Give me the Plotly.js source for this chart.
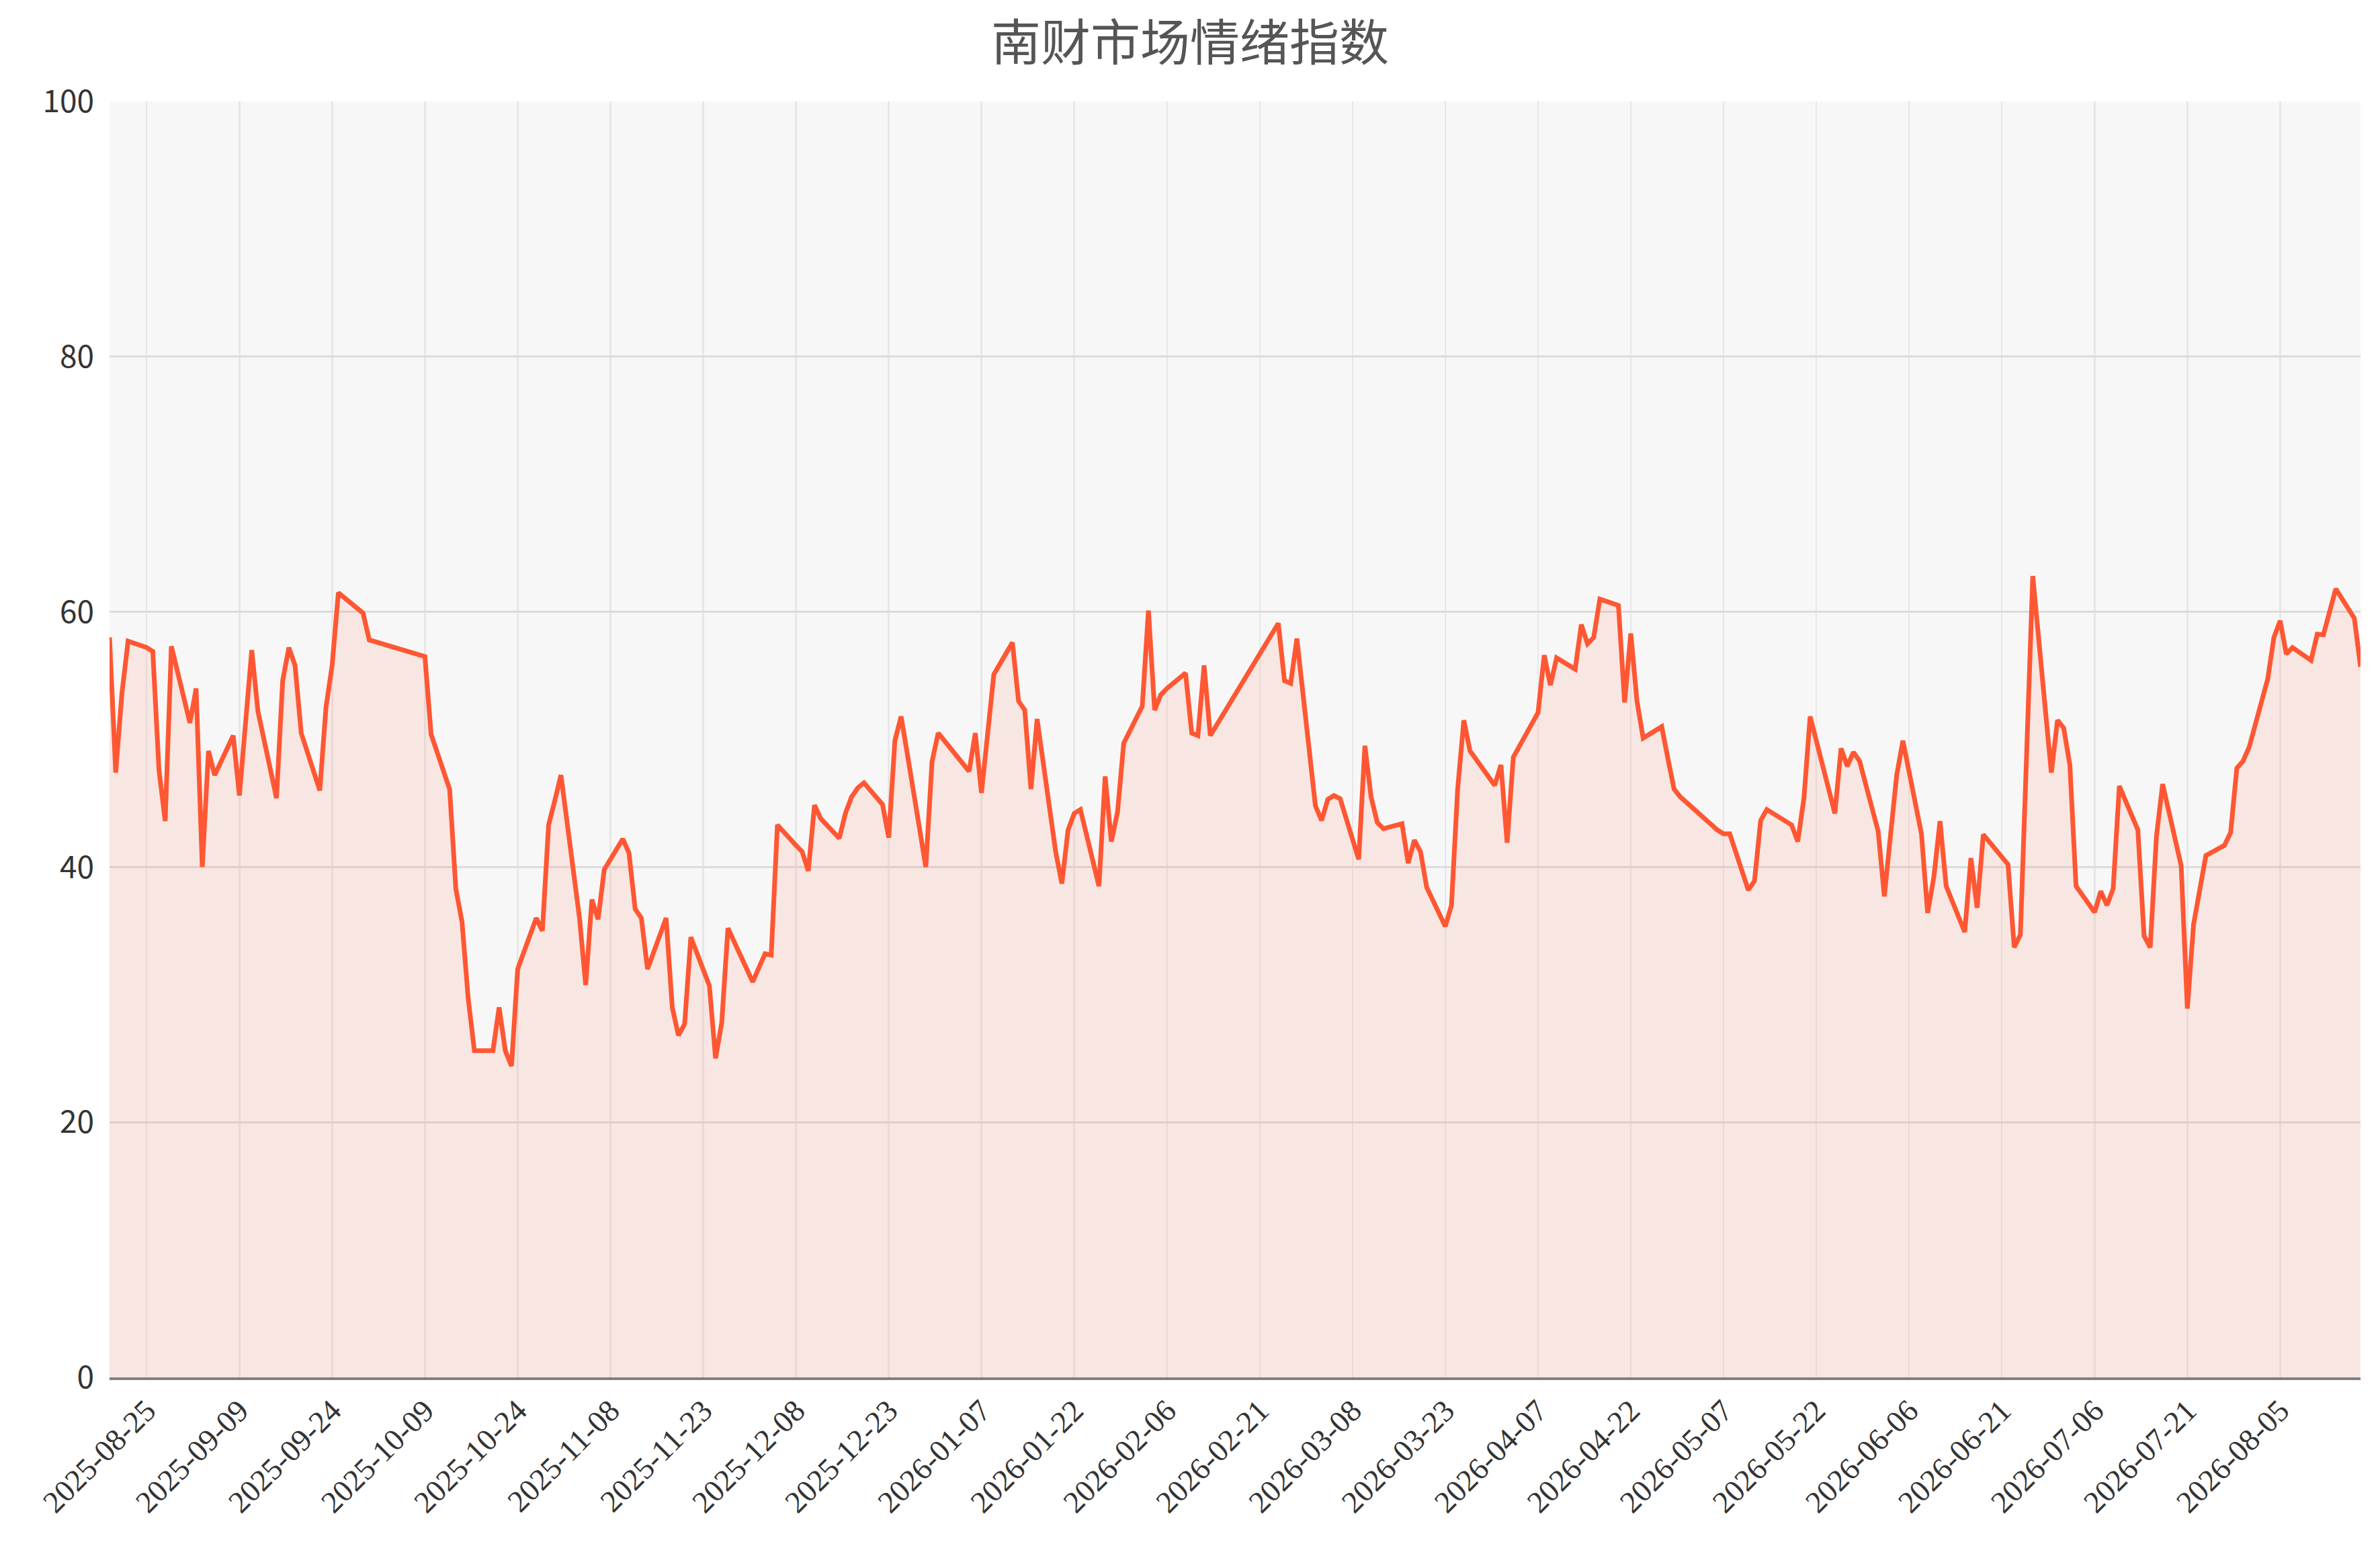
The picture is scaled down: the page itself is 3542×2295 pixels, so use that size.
<!DOCTYPE html>
<html>
<head>
<meta charset="utf-8">
<script src="https://cdn.plot.ly/plotly-3.0.1.min.js"></script>
<style>
  html, body { margin: 0; padding: 0; background: #ffffff; }
  #chart { width: 3542px; height: 2295px; }
</style>
</head>
<body>
<div id="chart"></div>
<script>
const CHART = document.getElementById('chart');

const TITLE = '南财市场情绪指数';
const LINE_COLOR = '#FF5733';

// trading days
const dates = [
    '2025-08-19', '2025-08-20', '2025-08-21', '2025-08-22', '2025-08-25', '2025-08-26', '2025-08-27', '2025-08-28', '2025-08-29',
    '2025-09-01', '2025-09-02', '2025-09-03', '2025-09-04', '2025-09-05', '2025-09-08', '2025-09-09', '2025-09-10', '2025-09-11', '2025-09-12',
    '2025-09-15', '2025-09-16', '2025-09-17', '2025-09-18', '2025-09-19', '2025-09-22', '2025-09-23', '2025-09-24', '2025-09-25', '2025-09-26',
    '2025-09-29', '2025-09-30', '2025-10-09', '2025-10-10', '2025-10-13', '2025-10-14', '2025-10-15', '2025-10-16', '2025-10-17',
    '2025-10-20', '2025-10-21', '2025-10-22', '2025-10-23', '2025-10-24', '2025-10-27', '2025-10-28', '2025-10-29', '2025-10-30', '2025-10-31',
    '2025-11-03', '2025-11-04', '2025-11-05', '2025-11-06', '2025-11-07', '2025-11-10', '2025-11-11', '2025-11-12', '2025-11-13', '2025-11-14',
    '2025-11-17', '2025-11-18', '2025-11-19', '2025-11-20', '2025-11-21', '2025-11-24', '2025-11-25', '2025-11-26', '2025-11-27', '2025-11-28',
    '2025-12-01', '2025-12-02', '2025-12-03', '2025-12-04', '2025-12-05', '2025-12-08', '2025-12-09', '2025-12-10', '2025-12-11', '2025-12-12',
    '2025-12-15', '2025-12-16', '2025-12-17', '2025-12-18', '2025-12-19', '2025-12-22', '2025-12-23', '2025-12-24', '2025-12-25', '2025-12-26',
    '2025-12-29', '2025-12-30', '2025-12-31', '2026-01-05', '2026-01-06', '2026-01-07', '2026-01-08', '2026-01-09',
    '2026-01-12', '2026-01-13', '2026-01-14', '2026-01-15', '2026-01-16', '2026-01-19', '2026-01-20', '2026-01-21', '2026-01-22', '2026-01-23',
    '2026-01-26', '2026-01-27', '2026-01-28', '2026-01-29', '2026-01-30', '2026-02-02', '2026-02-03', '2026-02-04', '2026-02-05', '2026-02-06',
    '2026-02-09', '2026-02-10', '2026-02-11', '2026-02-12', '2026-02-13', '2026-02-24', '2026-02-25', '2026-02-26', '2026-02-27',
    '2026-03-02', '2026-03-03', '2026-03-04', '2026-03-05', '2026-03-06', '2026-03-09', '2026-03-10', '2026-03-11', '2026-03-12', '2026-03-13',
    '2026-03-16', '2026-03-17', '2026-03-18', '2026-03-19', '2026-03-20', '2026-03-23', '2026-03-24', '2026-03-25', '2026-03-26', '2026-03-27',
    '2026-03-30', '2026-03-31', '2026-04-01', '2026-04-02', '2026-04-03', '2026-04-07', '2026-04-08', '2026-04-09', '2026-04-10',
    '2026-04-13', '2026-04-14', '2026-04-15', '2026-04-16', '2026-04-17', '2026-04-20', '2026-04-21', '2026-04-22', '2026-04-23', '2026-04-24',
    '2026-04-27', '2026-04-28', '2026-04-29', '2026-04-30', '2026-05-06', '2026-05-07', '2026-05-08',
    '2026-05-11', '2026-05-12', '2026-05-13', '2026-05-14', '2026-05-15', '2026-05-18', '2026-05-19', '2026-05-20', '2026-05-21', '2026-05-22',
    '2026-05-25', '2026-05-26', '2026-05-27', '2026-05-28', '2026-05-29', '2026-06-01', '2026-06-02', '2026-06-03', '2026-06-04', '2026-06-05',
    '2026-06-08', '2026-06-09', '2026-06-10', '2026-06-11', '2026-06-12', '2026-06-15', '2026-06-16', '2026-06-17', '2026-06-18',
    '2026-06-22', '2026-06-23', '2026-06-24', '2026-06-25', '2026-06-26', '2026-06-29', '2026-06-30', '2026-07-01', '2026-07-02', '2026-07-03',
    '2026-07-06', '2026-07-07', '2026-07-08', '2026-07-09', '2026-07-10', '2026-07-13', '2026-07-14', '2026-07-15', '2026-07-16', '2026-07-17',
    '2026-07-20', '2026-07-21', '2026-07-22', '2026-07-23', '2026-07-24', '2026-07-27', '2026-07-28', '2026-07-29', '2026-07-30', '2026-07-31',
    '2026-08-03', '2026-08-04', '2026-08-05', '2026-08-06', '2026-08-07', '2026-08-10', '2026-08-11', '2026-08-12', '2026-08-13', '2026-08-14',
    '2026-08-17', '2026-08-18'
];

const sentiment = [
    58.0, 47.4, 53.6, 57.7, 57.2, 56.9, 47.6, 43.6, 57.3,
    51.3, 54.0, 40.0, 49.1, 47.2, 50.3, 45.6, 51.3, 57.0, 52.2,
    45.4, 54.6, 57.2, 55.8, 50.5, 46.0, 52.5, 55.8, 61.5, 61.1,
    59.9, 57.8, 56.5, 50.4, 46.1, 38.3, 35.7, 29.7, 25.6,
    25.6, 29.0, 25.6, 24.4, 32.0, 36.0, 35.0, 43.3, 45.2, 47.2,
    36.0, 30.75, 37.45, 35.9, 39.8, 42.2, 41.1, 36.7, 36.0, 32.0,
    36.0, 29.0, 26.8, 27.7, 34.5, 30.7, 25.0, 27.8, 35.2, 34.1,
    31.0, 32.1, 33.2, 33.1, 43.3, 41.7, 41.2, 39.7, 44.85, 43.8,
    42.25, 44.2, 45.5, 46.2, 46.6, 44.9, 42.3, 49.9, 51.8, 48.9,
    40.0, 48.25, 50.5, 47.5, 50.5, 45.8, 50.3, 55.1,
    57.6, 53.0, 52.3, 46.1, 51.6, 41.2, 38.7, 42.9, 44.2, 44.5,
    38.5, 47.1, 42.0, 44.3, 49.7, 52.6, 60.1, 52.3, 53.5, 54.0,
    55.2, 50.5, 50.3, 55.8, 50.3, 59.1, 54.6, 54.4, 57.9,
    44.8, 43.65, 45.3, 45.6, 45.35, 40.6, 49.5, 45.5, 43.5, 43.0,
    43.4, 40.3, 42.1, 41.2, 38.4, 35.35, 37.0, 46.1, 51.5, 49.1,
    47.1, 46.4, 48.0, 41.9, 48.6, 52.1, 56.6, 54.25, 56.4,
    55.5, 59.0, 57.5, 58.0, 61.0, 60.5, 52.9, 58.3, 53.0, 50.1,
    51.0, 48.5, 46.1, 45.5, 42.9, 42.6, 42.6,
    38.2, 38.9, 43.65, 44.5, 44.2, 43.3, 42.0, 45.4, 51.8, 49.9,
    44.2, 49.3, 47.9, 49.0, 48.3, 42.8, 37.7, 42.5, 47.2, 49.9,
    42.6, 36.4, 39.2, 43.6, 38.5, 34.9, 40.7, 36.8, 42.55,
    40.2, 33.7, 34.7, 48.7, 62.8, 47.4, 51.5, 50.9, 48.0, 38.5,
    36.45, 38.1, 37.0, 38.3, 46.35, 42.9, 34.6, 33.7, 42.4, 46.5,
    40.1, 28.9, 35.5, 38.2, 40.9, 41.7, 42.7, 47.75, 48.3, 49.4,
    54.75, 58.0, 59.3, 56.7, 57.2, 56.2, 58.25, 58.2, 60.0, 61.8,
    59.5, 55.7
];

const X_TICK0 = '2025-08-25';
const X_DTICK = 15 * 86400000;   // every 15 days
const Y_TICKS = [0, 20, 40, 60, 80, 100];

const SERIF = 'Times New Roman, Liberation Serif, Tinos, Noto Serif, DejaVu Serif, serif';

function plot() {
    const trace = [{
        x: dates,
        y: sentiment,
        type: 'scatter',
        mode: 'lines',
        fill: 'tozeroy',
        fillcolor: 'rgba(255, 87, 51, 0.1)',
        line: { color: LINE_COLOR, width: 7 },
        hoverinfo: 'x+y'
    }];

    const layout = {
        width: 3542,
        height: 2295,
        showlegend: false,
        paper_bgcolor: '#ffffff',
        plot_bgcolor: '#f7f7f7',
        margin: { l: 163, r: 29, t: 151, b: 245 },
        font: { family: SERIF, color: '#333333' },
        title: {
            text: TITLE,
            x: 0.5,
            xanchor: 'center',
            y: 0.972,
            yanchor: 'middle',
            font: { family: 'Noto Sans CJK SC, sans-serif', size: 74, color: '#555555' }
        },
        xaxis: {
            type: 'date',
            range: [dates[0], dates[dates.length - 1]],
            tick0: X_TICK0,
            dtick: X_DTICK,
            tickformat: '%Y-%m-%d',
            tickangle: -45,
            ticks: '',
            showgrid: true,
            gridcolor: 'rgba(200, 200, 200, 0.35)',
            gridwidth: 2.5,
            showline: true,
            linecolor: '#808080',
            linewidth: 4,
            zeroline: false,
            tickfont: { family: SERIF, size: 46, color: '#333333' }
        },
        yaxis: {
            range: [0, 100],
            tickvals: Y_TICKS,
            ticks: '',
            ticklabelstandoff: 22,
            showgrid: true,
            gridcolor: '#dcdcdc',
            gridwidth: 3,
            showline: false,
            zeroline: false,
            tickfont: { family: 'Noto Sans CJK SC, Noto Sans, sans-serif', size: 46, color: '#333333' }
        }
    };

    const config = { responsive: false, displayModeBar: false, staticPlot: true };

    Plotly.newPlot(CHART, trace, layout, config);
}

plot();
</script>
</body>
</html>
